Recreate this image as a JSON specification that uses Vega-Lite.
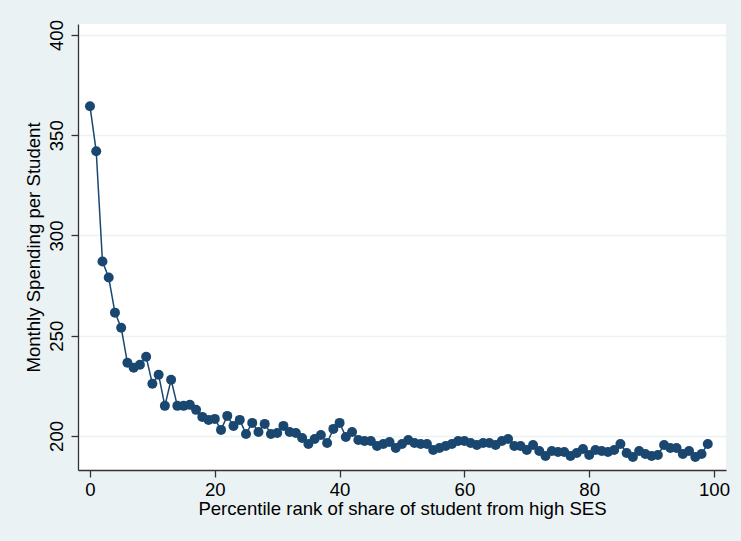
{
  "$schema": "https://vega.github.io/schema/vega-lite/v6.json",
  "autosize": "none",
  "width": 648,
  "height": 446,
  "padding": {"left": 78, "top": 24, "right": 15, "bottom": 71},
  "background": "#EAF2F3",
  "config": {
    "view": {"fill": "white", "stroke": null},
    "font": "Liberation Sans",
    "axis": {
      "labelFont": "Liberation Sans",
      "titleFont": "Liberation Sans",
      "labelFontSize": 18.6,
      "titleFontSize": 18.6,
      "titleFontWeight": "normal",
      "labelColor": "black",
      "titleColor": "black",
      "domainColor": "#333333",
      "domainWidth": 1.3,
      "tickColor": "#333333",
      "tickWidth": 1.3,
      "tickSize": 7
    }
  },
  "data": {
    "values": [
      {"pct": 0, "spend": 364.5}, {"pct": 1, "spend": 342}, {"pct": 2, "spend": 287}, {"pct": 3, "spend": 279},
      {"pct": 4, "spend": 261.5}, {"pct": 5, "spend": 254}, {"pct": 6, "spend": 236.5}, {"pct": 7, "spend": 234},
      {"pct": 8, "spend": 235.5}, {"pct": 9, "spend": 239.5}, {"pct": 10, "spend": 226}, {"pct": 11, "spend": 230.5},
      {"pct": 12, "spend": 215}, {"pct": 13, "spend": 228}, {"pct": 14, "spend": 215}, {"pct": 15, "spend": 215},
      {"pct": 16, "spend": 215.5}, {"pct": 17, "spend": 213}, {"pct": 18, "spend": 209.5}, {"pct": 19, "spend": 208},
      {"pct": 20, "spend": 208.5}, {"pct": 21, "spend": 203}, {"pct": 22, "spend": 210}, {"pct": 23, "spend": 205},
      {"pct": 24, "spend": 208}, {"pct": 25, "spend": 201}, {"pct": 26, "spend": 206.5}, {"pct": 27, "spend": 202},
      {"pct": 28, "spend": 206}, {"pct": 29, "spend": 201}, {"pct": 30, "spend": 201.5}, {"pct": 31, "spend": 205},
      {"pct": 32, "spend": 202}, {"pct": 33, "spend": 201.5}, {"pct": 34, "spend": 199}, {"pct": 35, "spend": 196},
      {"pct": 36, "spend": 198.5}, {"pct": 37, "spend": 200.5}, {"pct": 38, "spend": 196.5}, {"pct": 39, "spend": 203.5},
      {"pct": 40, "spend": 206.5}, {"pct": 41, "spend": 199.5}, {"pct": 42, "spend": 202}, {"pct": 43, "spend": 198},
      {"pct": 44, "spend": 197.5}, {"pct": 45, "spend": 197.5}, {"pct": 46, "spend": 195}, {"pct": 47, "spend": 196},
      {"pct": 48, "spend": 197}, {"pct": 49, "spend": 194}, {"pct": 50, "spend": 196}, {"pct": 51, "spend": 198},
      {"pct": 52, "spend": 196.5}, {"pct": 53, "spend": 196}, {"pct": 54, "spend": 196}, {"pct": 55, "spend": 193},
      {"pct": 56, "spend": 194}, {"pct": 57, "spend": 195}, {"pct": 58, "spend": 196}, {"pct": 59, "spend": 197.5},
      {"pct": 60, "spend": 197.5}, {"pct": 61, "spend": 196.5}, {"pct": 62, "spend": 195.5}, {"pct": 63, "spend": 196.5},
      {"pct": 64, "spend": 196.5}, {"pct": 65, "spend": 195.5}, {"pct": 66, "spend": 197.5}, {"pct": 67, "spend": 198.5},
      {"pct": 68, "spend": 195}, {"pct": 69, "spend": 195}, {"pct": 70, "spend": 193}, {"pct": 71, "spend": 195.5},
      {"pct": 72, "spend": 192.5}, {"pct": 73, "spend": 190}, {"pct": 74, "spend": 192.5}, {"pct": 75, "spend": 192},
      {"pct": 76, "spend": 192}, {"pct": 77, "spend": 190}, {"pct": 78, "spend": 191.5}, {"pct": 79, "spend": 193.5},
      {"pct": 80, "spend": 190.5}, {"pct": 81, "spend": 193}, {"pct": 82, "spend": 192.5}, {"pct": 83, "spend": 192},
      {"pct": 84, "spend": 193}, {"pct": 85, "spend": 196}, {"pct": 86, "spend": 191.5}, {"pct": 87, "spend": 189.5},
      {"pct": 88, "spend": 192.5}, {"pct": 89, "spend": 191}, {"pct": 90, "spend": 190}, {"pct": 91, "spend": 190.5},
      {"pct": 92, "spend": 195.5}, {"pct": 93, "spend": 194}, {"pct": 94, "spend": 194}, {"pct": 95, "spend": 191},
      {"pct": 96, "spend": 192.5}, {"pct": 97, "spend": 189.5}, {"pct": 98, "spend": 191}, {"pct": 99, "spend": 196}
    ]
  },
  "mark": {
    "type": "line",
    "color": "#1a476f",
    "strokeWidth": 1.5,
    "point": {"filled": true, "size": 100, "color": "#1a476f", "opacity": 1}
  },
  "encoding": {
    "x": {
      "field": "pct",
      "type": "quantitative",
      "scale": {"domain": [-1.92, 101.92], "nice": false, "zero": false},
      "axis": {
        "title": "Percentile rank of share of student from high SES",
        "values": [0, 20, 40, 60, 80, 100],
        "grid": false,
        "labelPadding": 3,
        "titlePadding": 1
      }
    },
    "y": {
      "field": "spend",
      "type": "quantitative",
      "scale": {"domain": [183, 405.5], "nice": false, "zero": false},
      "axis": {
        "title": "Monthly Spending per Student",
        "values": [200, 250, 300, 350, 400],
        "grid": true,
        "gridColor": "#EAF2F3",
        "gridWidth": 1.5,
        "labelAngle": 270,
        "labelAlign": "center",
        "labelBaseline": "alphabetic",
        "labelPadding": 9,
        "titlePadding": 4
      }
    }
  }
}
